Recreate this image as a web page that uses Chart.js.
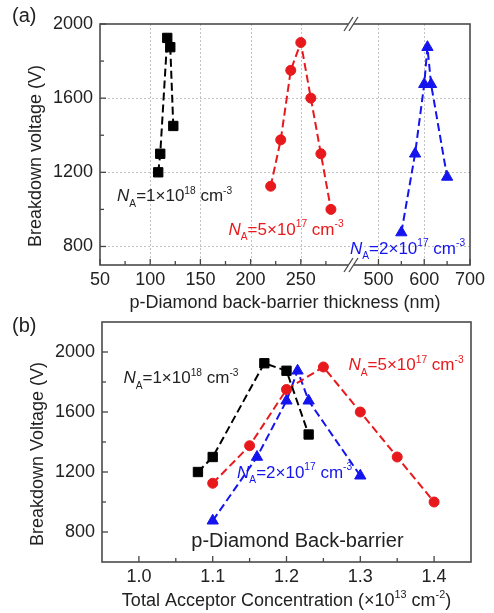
<!DOCTYPE html>
<html>
<head>
<meta charset="utf-8">
<script src="https://cdn.jsdelivr.net/npm/chart.js@4.4.0/dist/chart.umd.min.js"></script>
<style>
  html, body { margin: 0; padding: 0; background: #fff; }
  #wrap { position: relative; width: 494px; height: 613px; }
  .panel { position: absolute; left: 0; width: 494px; }
  #pa { top: 0; height: 313px; }
  #pb { top: 313px; height: 300px; }
</style>
</head>
<body>
<div id="wrap">
  <div class="panel" id="pa"><canvas id="chartA"></canvas></div>
  <div class="panel" id="pb"><canvas id="chartB"></canvas></div>
</div>
<script>
// --- data, panel (a): breakdown voltage vs back-barrier thickness (nm) ---
const thickness1e18 = [108, 110, 117, 120, 123];
const voltage1e18   = [1200, 1300, 1925, 1875, 1450];
const thickness5e17 = [220, 230, 240, 250, 260, 270, 280];
const voltage5e17   = [1125, 1375, 1750, 1900, 1600, 1300, 1000];
const thickness2e17 = [550, 580, 600, 607, 615, 650];
const voltage2e17   = [875, 1300, 1675, 1875, 1675, 1175];

// --- data, panel (b): same devices vs total acceptor dose (x1e13 cm^-2) ---
const dose1e18 = [1.08, 1.10, 1.17, 1.20, 1.23];
const dose5e17 = [1.10, 1.15, 1.20, 1.25, 1.30, 1.35, 1.40];
const dose2e17 = [1.10, 1.16, 1.20, 1.215, 1.23, 1.30];

// --- ticks ---
const xLeftTicks   = [50, 75, 100, 125, 150, 175, 200, 225, 250, 275];
const xLeftLabels  = [50, 100, 150, 200, 250];
const xRightTicks  = [500, 550, 600, 650, 700];
const xRightLabels = [500, 600, 700];
const yTicksA      = [800, 1000, 1200, 1400, 1600, 1800, 2000];
const yLabelsA     = [800, 1200, 1600, 2000];
const xTicksB      = [1.0, 1.05, 1.1, 1.15, 1.2, 1.25, 1.3, 1.35, 1.4];
const xLabelsB     = [1.0, 1.1, 1.2, 1.3, 1.4];
const yTicksB      = [800, 1000, 1200, 1400, 1600, 1800, 2000];
const yLabelsB     = [800, 1200, 1600, 2000];

const FONT = 'Arial, "Liberation Sans", sans-serif';
const TXT = '#222';
const BLACK = '#000000', RED = '#e8191c', BLUE = '#1414ee';

Chart.defaults.font.family = FONT;
Chart.defaults.color = TXT;

const pts = (xs, ys) => xs.map((x, i) => ({ x: x, y: ys[i] }));
const isLabel = (list, v) => list.some(l => Math.abs(l - v) < 1e-9);

function series(xs, ys, color, style, r, xAxisID) {
  return {
    data: pts(xs, ys),
    xAxisID: xAxisID,
    yAxisID: 'y',
    showLine: true,
    borderColor: color,
    backgroundColor: color,
    borderWidth: 2,
    borderDash: [8, 4],
    pointStyle: style,
    pointRadius: r,
    pointBorderWidth: 1,
    pointBorderColor: color,
    pointBackgroundColor: color
  };
}

// fixed-size axis box; edge label padding dropped so the plot area stays put
function fixSize(w, h) {
  return s => {
    if (w) s.width = w;
    if (h) s.height = h;
    s.paddingTop = 0; s.paddingBottom = 0; s.paddingLeft = 0; s.paddingRight = 0;
  };
}

function axis(extra, ticks, labels, pad, fmt) {
  return Object.assign({
    type: 'linear',
    grid: { display: false, drawTicks: false },
    border: { display: false },
    afterBuildTicks: s => { s.ticks = ticks.map(v => ({ value: v })); },
    ticks: {
      font: { size: 18 },
      color: TXT,
      autoSkip: false,
      maxRotation: 0,
      padding: pad,
      callback: v => isLabel(labels, v) ? (fmt ? fmt(v) : String(v)) : ''
    }
  }, extra);
}

// rich text: parts drawn one after another, with sub/superscripts
function richWidth(ctx, parts, size) {
  let w = 0;
  parts.forEach(p => {
    ctx.font = (p.i ? 'italic ' : '') + (size * (p.k || 1)) + 'px ' + FONT;
    w += ctx.measureText(p.t).width;
  });
  return w;
}
function drawRich(ctx, parts, x, y, size, color, center) {
  ctx.save();
  ctx.fillStyle = color;
  ctx.textBaseline = 'alphabetic';
  ctx.textAlign = 'left';
  let cx = center ? x - richWidth(ctx, parts, size) / 2 : x;
  const base = y + size * 0.36;
  parts.forEach(p => {
    ctx.font = (p.i ? 'italic ' : '') + (size * (p.k || 1)) + 'px ' + FONT;
    ctx.fillText(p.t, cx, base + (p.dy || 0) * size);
    cx += ctx.measureText(p.t).width;
  });
  ctx.restore();
}
const naText = (mant, exp) => [
  { t: 'N', i: true },
  { t: 'A', k: 0.6, dy: 0.3 },
  { t: '=' + mant + '\u00d710' },
  { t: exp, k: 0.6, dy: -0.45 },
  { t: ' cm' },
  { t: '-3', k: 0.6, dy: -0.45 }
];

function panelPlugin(o) {
  return {
    id: 'panelDecor',
    beforeDatasetsDraw(chart) {
      const { ctx, chartArea: a } = chart;
      if (!o.grid) return;
      ctx.save();
      ctx.strokeStyle = '#c2c2c2';
      ctx.lineWidth = 1;
      ctx.setLineDash([2, 2]);
      o.grid.forEach(([id, vals]) => {
        const s = chart.scales[id];
        vals.forEach(v => {
          const p = Math.round(s.getPixelForValue(v)) + 0.5;
          ctx.beginPath();
          if (s.isHorizontal()) { ctx.moveTo(p, a.top); ctx.lineTo(p, a.bottom); }
          else { ctx.moveTo(a.left, p); ctx.lineTo(a.right, p); }
          ctx.stroke();
        });
      });
      ctx.restore();
    },
    afterDatasetsDraw(chart) {
      const { ctx, chartArea: a } = chart;
      ctx.save();
      // inward tick marks
      ctx.strokeStyle = '#444';
      ctx.lineWidth = 1.3;
      o.ticks.forEach(([id, vals, labels]) => {
        const s = chart.scales[id];
        vals.forEach(v => {
          const len = isLabel(labels, v) ? 6 : 4;
          const p = s.getPixelForValue(v);
          ctx.beginPath();
          if (s.isHorizontal()) { ctx.moveTo(p, a.bottom); ctx.lineTo(p, a.bottom - len); }
          else { ctx.moveTo(a.left, p); ctx.lineTo(a.left + len, p); }
          ctx.stroke();
        });
      });
      // frame
      ctx.strokeStyle = '#4a4a4a';
      ctx.lineWidth = 1.6;
      ctx.strokeRect(a.left, a.top, a.right - a.left, a.bottom - a.top);
      // axis break marks
      if (o.breakAfter) {
        const bx = chart.scales[o.breakAfter].right;
        [a.top, a.bottom].forEach(yy => {
          ctx.fillStyle = '#fff';
          ctx.beginPath();
          ctx.moveTo(bx - 7, yy + 7); ctx.lineTo(bx + 2, yy - 7);
          ctx.lineTo(bx + 7, yy - 7); ctx.lineTo(bx - 2, yy + 7);
          ctx.closePath();
          ctx.fill();
          ctx.strokeStyle = '#4a4a4a';
          ctx.lineWidth = 1.3;
          [-2.5, 2.5].forEach(d => {
            ctx.beginPath();
            ctx.moveTo(bx + d - 4.5, yy + 7);
            ctx.lineTo(bx + d + 4.5, yy - 7);
            ctx.stroke();
          });
        });
      }
      ctx.restore();
      // annotations (placed in data coordinates)
      o.notes.forEach(n => {
        const x = chart.scales[n.x].getPixelForValue(n.xv);
        const y = chart.scales.y.getPixelForValue(n.yv);
        drawRich(ctx, n.parts, x, y, n.size, n.color, false);
      });
      // axis titles and panel letter
      const cx = (a.left + a.right) / 2;
      drawRich(ctx, o.xTitle, cx, o.xTitleY, 18, TXT, true);
      ctx.save();
      ctx.translate(o.yTitleX, o.yTitleY);
      ctx.rotate(-Math.PI / 2);
      drawRich(ctx, [{ t: o.yTitle }], 0, 0, 18, TXT, true);
      ctx.restore();
      drawRich(ctx, [{ t: o.letter }], 12, o.letterY, 20, TXT, false);
    }
  };
}

// --- panel (a) ---
new Chart(document.getElementById('chartA'), {
  type: 'scatter',
  data: {
    datasets: [
      series(thickness1e18, voltage1e18, BLACK, 'rect', 6.6, 'xl'),
      series(thickness5e17, voltage5e17, RED, 'circle', 5, 'xl'),
      series(thickness2e17, voltage2e17, BLUE, 'triangle', 6.5, 'xr')
    ]
  },
  options: {
    responsive: true,
    maintainAspectRatio: false,
    animation: false,
    devicePixelRatio: 1,
    layout: { padding: { top: 24, right: 24, left: 0, bottom: 0 } },
    plugins: { legend: { display: false }, tooltip: { enabled: false } },
    scales: {
      xl: axis({ position: 'bottom', stack: 'xa', stackWeight: 251, min: 50, max: 300,
                 afterFit: fixSize(0, 48) }, xLeftTicks, xLeftLabels, 4),
      xr: axis({ position: 'bottom', stack: 'xa', stackWeight: 119, min: 440, max: 700,
                 afterFit: fixSize(0, 48) }, xRightTicks, xRightLabels, 4),
      y: axis({ position: 'left', min: 700, max: 2000,
                afterFit: fixSize(100, 0) }, yTicksA, yLabelsA, 7)
    }
  },
  plugins: [panelPlugin({
    grid: [['xl', [100, 150, 200, 250]], ['xr', [500, 600]], ['y', [800, 1200, 1600]]],
    ticks: [['xl', xLeftTicks, xLeftLabels], ['xr', xRightTicks, xRightLabels], ['y', yTicksA, yLabelsA]],
    breakAfter: 'xl',
    notes: [
      { x: 'xl', xv: 67, yv: 1076, parts: naText('1', '18'), size: 17, color: TXT },
      { x: 'xl', xv: 178, yv: 897, parts: naText('5', '17'), size: 17, color: RED },
      { x: 'xl', xv: 299, yv: 795, parts: naText('2', '17'), size: 17, color: BLUE }
    ],
    xTitle: [{ t: 'p-Diamond back-barrier thickness (nm)' }],
    xTitleY: 302,
    yTitle: 'Breakdown voltage (V)',
    yTitleX: 35, yTitleY: 156,
    letter: '(a)', letterY: 15
  })]
});

// --- panel (b) ---
new Chart(document.getElementById('chartB'), {
  type: 'scatter',
  data: {
    datasets: [
      series(dose1e18, voltage1e18, BLACK, 'rect', 6.6, 'x'),
      series(dose5e17, voltage5e17, RED, 'circle', 5, 'x'),
      series(dose2e17, voltage2e17, BLUE, 'triangle', 6.5, 'x')
    ]
  },
  options: {
    responsive: true,
    maintainAspectRatio: false,
    animation: false,
    devicePixelRatio: 1,
    layout: { padding: { top: 9, right: 23, left: 0, bottom: 0 } },
    plugins: { legend: { display: false }, tooltip: { enabled: false } },
    scales: {
      x: axis({ position: 'bottom', min: 0.95, max: 1.45,
                afterFit: fixSize(0, 51) }, xTicksB, xLabelsB, 4, v => v.toFixed(1)),
      y: axis({ position: 'left', min: 600, max: 2200,
                afterFit: fixSize(102, 0) }, yTicksB, yLabelsB, 7)
    }
  },
  plugins: [panelPlugin({
    grid: null,
    ticks: [['x', xTicksB, xLabelsB], ['y', yTicksB, yLabelsB]],
    breakAfter: null,
    notes: [
      { x: 'x', xv: 0.979, yv: 1831, parts: naText('1', '18'), size: 17, color: TXT },
      { x: 'x', xv: 1.284, yv: 1918, parts: naText('5', '17'), size: 17, color: RED },
      { x: 'x', xv: 1.133, yv: 1200, parts: naText('2', '17'), size: 17, color: BLUE },
      { x: 'x', xv: 1.071, yv: 751, parts: [{ t: 'p-Diamond Back-barrier' }], size: 20, color: TXT }
    ],
    xTitle: [
      { t: 'Total Acceptor Concentration (\u00d710' },
      { t: '13', k: 0.6, dy: -0.45 },
      { t: ' cm' },
      { t: '-2', k: 0.6, dy: -0.45 },
      { t: ')' }
    ],
    xTitleY: 287,
    yTitle: 'Breakdown Voltage (V)',
    yTitleX: 37, yTitleY: 141,
    letter: '(b)', letterY: 12
  })]
});
</script>
</body>
</html>
